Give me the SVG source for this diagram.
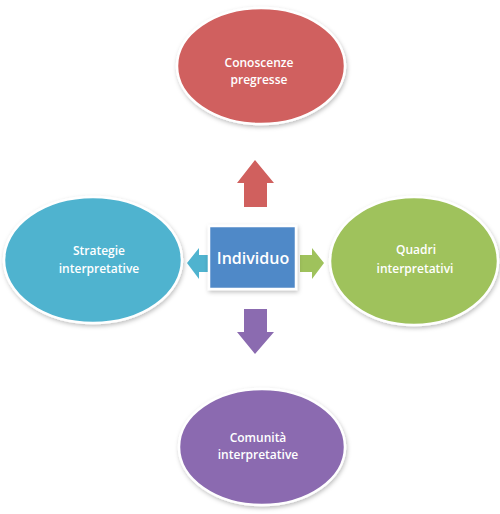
<svg xmlns="http://www.w3.org/2000/svg" width="500" height="514" viewBox="0 0 500 514">
  <defs>
    <filter id="sh" x="-20%" y="-20%" width="140%" height="140%">
      <feDropShadow dx="1" dy="2" stdDeviation="2" flood-color="#000" flood-opacity="0.25"/>
    </filter>
  </defs>
  <style>
    .node { stroke: #ffffff; stroke-width: 2.5; filter: url(#sh); }
    .lbl { font-family: "Open Sans", "DejaVu Sans", sans-serif; font-weight: 600; font-size: 12px; fill: #ffffff; text-anchor: middle; }
    .big { font-size: 16px; }
    .arr { stroke: none; }
  </style>
  <rect width="500" height="514" fill="#ffffff"/>
  <g id="connectors">
    <polygon class="arr" fill="#d0605e" points="255,160 274,183 267,183 267,207 244,207 244,183 237,183"/>
    <polygon class="arr" fill="#8b6bb0" points="244,309 267,309 267,332 274,332 255,354 237,332 244,332"/>
    <polygon class="arr" fill="#4fb3cf" points="187,263 199,248 199,255 212,255 212,272 199,272 199,279"/>
    <polygon class="arr" fill="#9fc25c" points="300,255 312,255 312,248 324,263 312,279 312,272 300,272"/>
  </g>
  <g id="conoscenze">
    <ellipse class="node" fill="#d0605e" cx="261" cy="66" rx="84" ry="58"/>
    <text class="lbl" x="259" y="67">Conoscenze</text>
    <text class="lbl" x="259" y="84">pregresse</text>
  </g>
  <g id="strategie">
    <ellipse class="node" fill="#4fb3cf" cx="93" cy="260" rx="89" ry="63"/>
    <text class="lbl" x="99" y="255">Strategie</text>
    <text class="lbl" x="99" y="273">interpretative</text>
  </g>
  <g id="quadri">
    <ellipse class="node" fill="#9fc25c" cx="414" cy="261" rx="84" ry="64"/>
    <text class="lbl" x="416" y="254">Quadri</text>
    <text class="lbl" x="415" y="273">interpretativi</text>
  </g>
  <g id="comunita">
    <ellipse class="node" fill="#8b6bb0" cx="262" cy="447" rx="83" ry="58"/>
    <text class="lbl" x="258" y="442">Comunità</text>
    <text class="lbl" x="258" y="459">interpretative</text>
  </g>
  <g id="individuo">
    <rect class="node" fill="#5089c8" x="209" y="226" width="87" height="63"/>
    <text class="lbl big" x="253" y="264">Individuo</text>
  </g>
</svg>
